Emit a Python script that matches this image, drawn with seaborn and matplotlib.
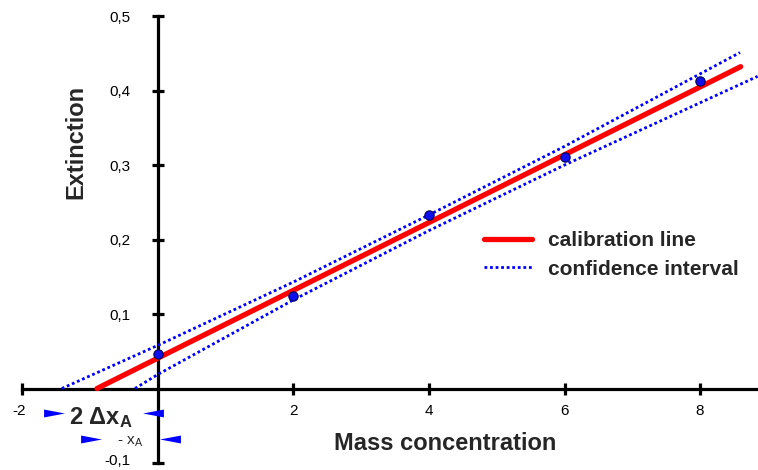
import numpy as np
import pandas as pd
import seaborn as sns
import matplotlib
matplotlib.use("Agg")
import matplotlib.pyplot as plt
import matplotlib.transforms as mtransforms
from matplotlib.path import Path

# ---- data ----
conc = [0, 2, 4, 6, 8]
extinction = [0.046, 0.124, 0.233, 0.311, 0.413]

cal_x = [-0.90, 8.60]
cal_y = [0.0, 0.432]

upper_x = [-1.42, 0, 2, 4, 6, 8.59]
upper_y = [0.0, 0.058, 0.143, 0.233, 0.325, 0.451]
lower_x = [-0.34, 0, 2, 4, 6, 8.85]
lower_y = [0.0, 0.019, 0.119, 0.212, 0.300, 0.419]

xticks = [-2, 2, 4, 6, 8]
xtick_labels = ["-2", "2", "4", "6", "8"]
yticks = [-0.1, 0.1, 0.2, 0.3, 0.4, 0.5]
ytick_labels = ["-0,1", "0,1", "0,2", "0,3", "0,4", "0,5"]

# annotation arrowheads (x, y in data units)
right_tri_x = [-1.535, -0.996]
right_tri_y = [-0.0333, -0.068]
left_tri_x = [-0.081, 0.170]
left_tri_y = [-0.0333, -0.068]

sns.set_theme(style="white")
plt.rcParams["font.family"] = ["Liberation Sans", "DejaVu Sans"]
plt.rcParams["mathtext.fontset"] = "custom"
plt.rcParams["mathtext.rm"] = "Liberation Sans"
plt.rcParams["mathtext.bf"] = "Liberation Sans:bold"
plt.rcParams["mathtext.it"] = "Liberation Sans:italic"

fig = plt.figure(figsize=(7.58, 4.70), dpi=100)
ax = fig.add_axes([0, 0, 1, 1])
ax.set_xlim(-2.332, 8.856)
ax.set_ylim(-0.1094, 0.5215)

blue = "#0000ff"
red = "#ff0000"

sns.lineplot(x=upper_x, y=upper_y, ax=ax, color=blue, lw=2.0,
             linestyle=(0, (1, 1)), label="confidence interval", zorder=2)
sns.lineplot(x=lower_x, y=lower_y, ax=ax, color=blue, lw=2.0,
             linestyle=(0, (1, 1)), label="_nolegend_", zorder=2)
sns.lineplot(x=cal_x, y=cal_y, ax=ax, color=red, lw=3.8,
             label="calibration line", zorder=3)
sns.scatterplot(x=conc, y=extinction, ax=ax, color="#1010ee", s=45,
                edgecolor="#000050", linewidth=0.8, zorder=4)

# spines as crossing axes
for s in ["top", "right"]:
    ax.spines[s].set_visible(False)
ax.spines["left"].set_position(("data", 0))
ax.spines["bottom"].set_position(("data", 0))
ax.spines["left"].set_bounds(-0.1, 0.5)
ax.spines["bottom"].set_bounds(-2, 8.856)
for s in ["left", "bottom"]:
    ax.spines[s].set_linewidth(2.3)
    ax.spines[s].set_color("black")
    ax.spines[s].set_zorder(1)

ax.set_xticks(xticks)
ax.set_xticklabels(xtick_labels)
ax.set_yticks(yticks)
ax.set_yticklabels(ytick_labels)
ax.tick_params(axis="both", direction="inout", length=8, width=2.3,
               color="black", labelsize=11, labelcolor="black",
               bottom=True, left=True)
ax.tick_params(axis="x", pad=7)
ax.tick_params(axis="y", pad=16)
# lift the lowest y label slightly so it stays inside the figure
lab0 = ax.get_yticklabels()[0]
lab0.set_transform(lab0.get_transform() +
                   mtransforms.ScaledTranslation(0, 3 / 100, fig.dpi_scale_trans))
# the -2 label sits slightly left of its tick
labm2 = ax.get_xticklabels()[0]
labm2.set_transform(labm2.get_transform() +
                    mtransforms.ScaledTranslation(-3 / 100, 0, fig.dpi_scale_trans))

# legend (calibration line first)
handles, labels = ax.get_legend_handles_labels()
order = [labels.index("calibration line"), labels.index("confidence interval")]
ax.legend([handles[i] for i in order], [labels[i] for i in order],
          loc="upper left", bbox_to_anchor=(0.625, 0.53), frameon=False,
          prop={"weight": "bold", "size": 15}, handlelength=2.3,
          handletextpad=0.75, labelspacing=0.45, borderpad=0)

# axis labels
ax.text(445 / 758, (470 - 443) / 470, "Mass concentration", transform=ax.transAxes,
        ha="center", va="center", fontsize=17, fontweight="bold")
ax.text(76 / 758, (470 - 142) / 470, "Extinction", transform=ax.transAxes,
        ha="center", va="center", fontsize=17, fontweight="bold", rotation=90)

# annotations
tri_r = Path([(-1, -0.38), (1, 0), (-1, 0.38), (-1, -0.38)],
             [Path.MOVETO, Path.LINETO, Path.LINETO, Path.CLOSEPOLY])
tri_l = Path([(1, -0.38), (-1, 0), (1, 0.38), (1, -0.38)],
             [Path.MOVETO, Path.LINETO, Path.LINETO, Path.CLOSEPOLY])
ax.scatter(right_tri_x, right_tri_y, marker=tri_r, s=15 ** 2, color=blue,
           linewidths=0, zorder=5, clip_on=False)
ax.scatter(left_tri_x, left_tri_y, marker=tri_l, s=15 ** 2, color=blue,
           linewidths=0, zorder=5, clip_on=False)
ax.text(-0.84, -0.039, r"2 Δx$_{\mathbf{A}}$", ha="center", va="center",
        fontsize=17, fontweight="bold")
ax.text(-0.41, -0.071, r"- x$_{\mathrm{A}}$", ha="center", va="center",
        fontsize=11)

fig.savefig("out.png", dpi=100)
